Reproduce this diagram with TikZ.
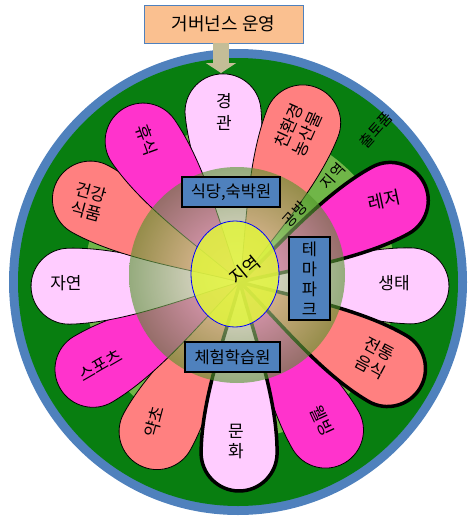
\documentclass[tikz,border=0pt]{standalone}
\usepackage{fontspec}
\setmainfont{Noto Sans CJK KR}
\usetikzlibrary{arrows.meta}

\definecolor{ringblue}{RGB}{79,129,189}
\definecolor{ringgreen}{RGB}{8,126,16}
\definecolor{halogreen}{RGB}{112,182,72}
\definecolor{petalpink}{RGB}{255,204,255}
\definecolor{petalsalmon}{RGB}{255,128,128}
\definecolor{petalmagenta}{RGB}{255,51,204}
\definecolor{titlefill}{RGB}{250,192,144}
\definecolor{arrowtan}{RGB}{196,189,151}
\definecolor{hubin}{RGB}{240,248,205}
\definecolor{hubout}{RGB}{80,150,40}
\definecolor{coreyellow}{RGB}{225,245,60}

\tikzset{
  lbl/.style={font=\fontsize{17}{20}\selectfont, align=center, inner sep=0pt},
  gaplbl/.style={font=\fontsize{15}{18}\selectfont, inner sep=0pt, rotate=48},
  infobox/.style={draw=black, line width=1.5pt, fill=ringblue, inner sep=0pt,
    font=\fontsize{16.5}{20}\selectfont, align=center},
}

% petal: angle, fill, border width
\newcommand{\petal}[3]{%
  \begin{scope}[shift={(C)}, rotate=#1]
    \draw[fill=#2, line width=#3, line join=round] (0,0)
      .. controls (50,-13) and (115,-38) .. (171,-38)
      arc[start angle=-90, end angle=90, radius=38]
      .. controls (115,38) and (50,13) .. (0,0) -- cycle;
  \end{scope}}

\begin{document}
\begin{tikzpicture}[x=1pt, y=1pt]
\useasboundingbox (0,0) rectangle (470,-517);
\coordinate (C) at (240,-282);
\coordinate (H) at (237,-275);

% ring
\fill[ringblue] (238,-282) ellipse [x radius=229, y radius=233];
\fill[ringgreen] (238,-282) ellipse [x radius=220, y radius=224];
\fill[halogreen] (C) circle (156);

% petals
\foreach \ang/\col in {95.7/petalpink, 68.5/petalsalmon, -1.3/petalpink,
    -60/petalmagenta, -119/petalsalmon, -149.3/petalmagenta,
    181.4/petalpink, 151/petalsalmon, 124.5/petalmagenta}
  \petal{\ang}{\col}{0.8pt};
\foreach \ang/\col in {28.5/petalmagenta, -30.4/petalsalmon, -90.3/petalpink}
  \petal{\ang}{\col}{3.5pt};

% hub
\shade[inner color=hubin, outer color=hubout, opacity=0.6] (H) circle (108);
\draw[blue, line width=0.8pt, fill=coreyellow, fill opacity=0.85]
  (235,-274) ellipse [x radius=44, y radius=53];
\node[lbl, rotate=40, font=\fontsize{18}{20}\selectfont] (region) at (245,-270) {지역};

% petal labels
\node[lbl, font=\fontsize{17}{22}\selectfont] (view) at (224,-112) {경\\관};
\node[lbl, rotate=66] (farm) at (298,-130) {친환경\\농산물};
\node[lbl, rotate=12, font=\fontsize{18}{20}\selectfont] (leisure) at (384,-200) {레저};
\node[lbl] (eco) at (394,-283) {생태};
\node[lbl, rotate=-28] (food) at (375,-358) {전통\\음식};
\node[lbl, rotate=-65] (well) at (322,-421) {웰빙};
\node[lbl] (culture) at (236,-441) {문\\화};
\node[lbl, rotate=75] (herb) at (154,-422) {약초};
\node[lbl, rotate=30] (sport) at (100,-365) {스포츠};
\node[lbl] (nature) at (66,-283) {자연};
\node[lbl, rotate=-15] (health) at (89,-202) {건강\\식품};
\node[lbl, rotate=-70] (rest) at (147,-140) {휴식};

% gap labels
\node[gaplbl] (craft) at (295,-214) {공방};
\node[gaplbl] (local) at (333,-176) {지역};
\node[gaplbl] (goods) at (376,-130) {출토품};

% facility boxes
\node[infobox, minimum width=98, minimum height=30] (stay) at (231,-192) {식당,숙박원};
\node[infobox, minimum width=41, minimum height=83] (theme) at (309.5,-278.5) {테\\마\\파\\크};
\node[infobox, minimum width=95, minimum height=30] (camp) at (232.5,-357) {체험학습원};

% governance
\node[draw=ringblue, fill=titlefill, minimum width=159, minimum height=38,
  font=\fontsize{18}{20}\selectfont] (gov) at (223.5,-24) {거버넌스 운영};
\coordinate (gtop) at (221,-73);
\draw[arrowtan, line width=16pt, -{Triangle[length=10pt, width=30pt]}]
  (gov.south -| gtop) -- (gtop);
\end{tikzpicture}
\end{document}
